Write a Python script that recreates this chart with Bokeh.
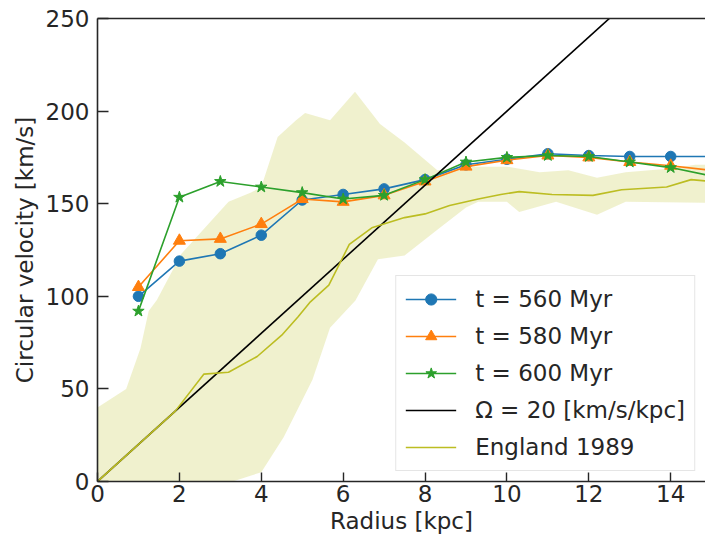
from bokeh.plotting import figure
from bokeh.models import (Range1d, LinearAxis, FixedTicker, Legend, LegendItem)
from bokeh.embed import file_html
from bokeh.resources import INLINE

# ---------------- data ----------------
radius_sim = [1, 2, 3, 4, 5, 6, 7, 8, 9, 10, 11, 12, 13, 14, 15]
v_560 = [100, 119, 123, 133, 152, 155, 158, 163, 171, 174, 177, 176, 175.5, 175.5, 175.5]
v_580 = [105, 130, 131, 139, 152.5, 151, 154.5, 162, 170, 173.5, 176, 175, 172.5, 170.5, 168]
v_600 = [92, 153.5, 162, 159, 156, 152.5, 154.5, 163, 172.5, 175, 176, 175.5, 172.5, 169.5, 165]

omega = 20.0
omega_r = [0.0, 15.0]
omega_v = [omega * r for r in omega_r]

england_r = [0, 1.9, 2.6, 3.2, 3.9, 4.5, 4.9, 5.2, 5.65, 6.15, 6.7, 7.5, 8.0, 8.6,
             9.3, 9.85, 10.3, 11.1, 12.1, 12.8, 13.9, 14.5, 15.0]
england_v = [0, 38, 58, 59, 67.5, 79, 89, 97, 106, 128, 137, 142.5, 144.5, 149,
             152.5, 155, 156.5, 155, 154.5, 157.5, 159, 163, 162]

band_upper_r = [0, 0.7, 1.05, 1.25, 1.45, 2.05, 3.2, 3.75, 4.0, 4.4, 4.85, 5.07, 5.68,
                6.29, 6.9, 7.5, 8.3, 9.1, 10.0, 10.8, 11.5, 12.2, 12.9, 14.0, 14.6, 15.0]
band_upper_v = [40, 50, 72, 92, 98, 123, 151, 156, 159, 186, 195, 199, 195,
                210.5, 193, 183, 168, 170, 170, 167, 168, 164, 167, 169, 171, 171]
band_lower_r = [0, 3.3, 4.0, 4.55, 5.25, 5.68, 6.3, 6.85, 7.5, 8.3, 9.0, 9.3, 10.0,
                10.3, 11.2, 12.2, 12.9, 14.8, 15.0]
band_lower_v = [0, 0, 5, 24, 55, 83, 97.7, 120, 122, 136, 148, 151, 151,
                145.5, 151, 144, 151, 150.5, 150.5]

labels = ["t = 560 Myr", "t = 580 Myr", "t = 600 Myr", "Ω = 20 [km/s/kpc]", "England 1989"]
x_ticks = [0, 2, 4, 6, 8, 10, 12, 14]
y_ticks = [0, 50, 100, 150, 200, 250]

FONT = "DejaVu Sans"
TXT = "#262626"

p = figure(width=705, height=542, x_range=Range1d(0, 14.85), y_range=Range1d(0, 250),
           output_backend="svg", toolbar_location=None,
           min_border_left=97, min_border_right=0, min_border_top=18, min_border_bottom=61)
p.grid.visible = False
p.outline_line_color = None
p.background_fill_color = "white"
p.border_fill_color = "white"

# band
band_x = band_upper_r + band_lower_r[::-1]
band_y = band_upper_v + band_lower_v[::-1]
p.patch(x=band_x, y=band_y, fill_color="#bcbd22", fill_alpha=0.22, line_color=None)

cols = ["#1f77b4", "#ff7f0e", "#2ca02c"]
series = [v_560, v_580, v_600]
markers = ["circle", "triangle", "star"]
sizes = [10.5, 12, 12]
items = []
for vals, c, m, s, lab in zip(series, cols, markers, sizes, labels[:3]):
    lr = p.line(x=radius_sim, y=vals, line_color=c, line_width=1.6)
    sr = p.scatter(x=radius_sim, y=vals, marker=m, size=s, fill_color=c, line_color=c)
    items.append(LegendItem(label=lab, renderers=[lr, sr]))

om = p.line(x=omega_r, y=omega_v, line_color="black", line_width=1.6)
items.append(LegendItem(label=labels[3], renderers=[om]))
en = p.line(x=england_r, y=england_v, line_color="#bcbd22", line_width=1.6)
items.append(LegendItem(label=labels[4], renderers=[en]))

# axes
for ax in (p.xaxis[0], p.yaxis[0]):
    ax.axis_line_width = 1.6
    ax.axis_line_color = TXT
    ax.major_tick_line_color = TXT
    ax.major_tick_line_width = 1.4
    ax.major_tick_out = 0
    ax.minor_tick_line_color = None
    ax.major_label_text_font = FONT
    ax.major_label_text_font_size = "23px"
    ax.major_label_text_color = TXT
    ax.axis_label_text_font = FONT
    ax.axis_label_text_font_size = "23px"
    ax.axis_label_text_font_style = "normal"
    ax.axis_label_text_color = TXT

p.xaxis[0].ticker = FixedTicker(ticks=x_ticks)
p.yaxis[0].ticker = FixedTicker(ticks=y_ticks)
p.xaxis[0].major_tick_in = 9
p.yaxis[0].major_tick_in = 11
p.xaxis[0].major_label_standoff = 3
p.yaxis[0].major_label_standoff = 8
p.xaxis[0].axis_label = "Radius [kpc]"
p.yaxis[0].axis_label = "Circular velocity [km/s]"
p.xaxis[0].axis_label_standoff = 3
p.yaxis[0].axis_label_standoff = 5

top = LinearAxis(ticker=FixedTicker(ticks=[]), major_label_text_font_size="0px",
                 major_tick_in=0, major_tick_out=0, minor_tick_line_color=None,
                 axis_line_width=1.6, axis_line_color=TXT)
p.add_layout(top, "above")

legend = Legend(items=items, location="bottom_right", margin=10)
legend.label_text_font = FONT
legend.label_text_font_size = "23px"
legend.label_text_color = TXT
legend.glyph_width = 51
legend.glyph_height = 28
legend.label_standoff = 19
legend.spacing = 9
legend.padding = 9
legend.border_line_color = "#cccccc"
legend.border_line_width = 1
legend.background_fill_color = "white"
legend.background_fill_alpha = 0.85
p.add_layout(legend)

open("out.html", "w").write(file_html(p, INLINE))
